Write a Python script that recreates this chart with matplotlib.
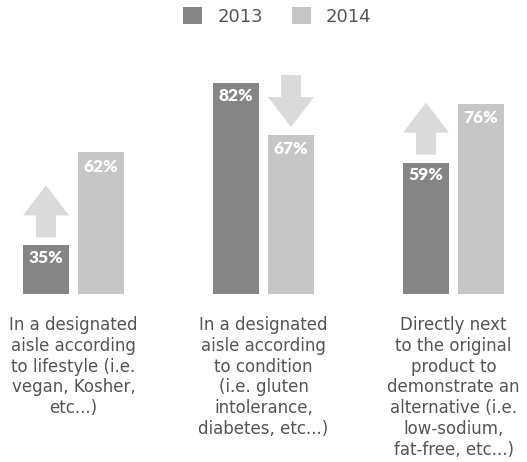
import numpy as np
import matplotlib
matplotlib.use('agg')
import matplotlib.pyplot as plt
from matplotlib.patches import FancyArrow

categories = [
    "In a designated\naisle according\nto lifestyle (i.e.\nvegan, Kosher,\netc...)",
    "In a designated\naisle according\nto condition\n(i.e. gluten\nintolerance,\ndiabetes, etc...)",
    "Directly next\nto the original\nproduct to\ndemonstrate an\nalternative (i.e.\nlow-sodium,\nfat-free, etc...)",
]
years = ["2013", "2014"]
values_2013 = [35, 82, 59]
values_2014 = [62, 67, 76]

dark = "#858585"
light = "#c6c6c6"
arrow_col = "#dadada"

fig = plt.figure(figsize=(5.27, 4.62), dpi=100)
# axes spans the full width; bars sit on a baseline at ~294 px from top
ax = fig.add_axes([0, 1 - 294 / 462, 1, 294 / 462])

x = np.arange(len(categories))
w = 46 / 190
off = 27.5 / 190
ax.bar(x - off, values_2013, w, color=dark, label=years[0])
ax.bar(x + off, values_2014, w, color=light, label=years[1])

ax.set_xlim(-73.5 / 190, (527 - 73.5) / 190)
ax.set_ylim(20.9, 20.9 + 294 / 3.45)
ax.axis('off')

# value labels in white near the top of each bar
for xi, v in zip(x - off, values_2013):
    ax.text(xi, v - 3.6, f"{v}%", ha='center', va='center', color='white',
            fontsize=12.5, fontweight='heavy', family='Lato')
for xi, v in zip(x + off, values_2014):
    ax.text(xi, v - 4.2, f"{v}%", ha='center', va='center', color='white',
            fontsize=12.5, fontweight='heavy', family='Lato')

# trend arrows placed over the shorter bar of each pair
alen = 52 / 3.45
gap = 2.3
hlen = 30 / 3.45
for xi, a, b in zip(x, values_2013, values_2014):
    if b > a:
        base = a + gap
        arr = FancyArrow(xi - off, base, 0, alen, width=20 / 190,
                         head_width=46 / 190, head_length=hlen,
                         length_includes_head=True, color=arrow_col, lw=0)
    else:
        base = b + gap + alen
        arr = FancyArrow(xi + off, base, 0, -alen, width=20 / 190,
                         head_width=46 / 190, head_length=hlen,
                         length_includes_head=True, color=arrow_col, lw=0)
    ax.add_patch(arr)

# category labels below the bars
for xi, lab in zip(x, categories):
    ax.text(xi, 20.9 - 22 / 3.45, lab, ha='center', va='top', color='#555555',
            fontsize=12, linespacing=1.2)

fig.legend(loc='upper center', bbox_to_anchor=(0.526, 1.02), ncol=2,
           frameon=False, fontsize=13, handlelength=1.05, handleheight=1.05,
           columnspacing=1.6, handletextpad=0.85, labelcolor='#555555')

fig.savefig("out.png", dpi=100)
